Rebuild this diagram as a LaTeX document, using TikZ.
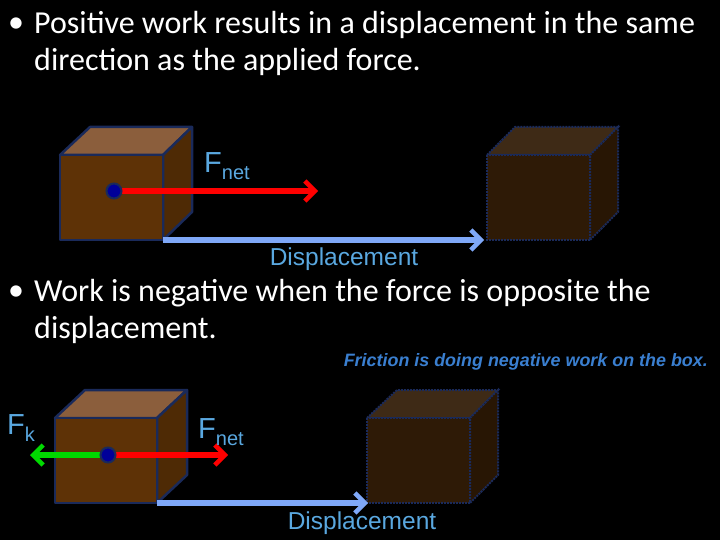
\documentclass[tikz,border=0pt]{standalone}
\usepackage{fontspec}
\setmainfont{Carlito}
\newfontfamily\arial{Liberation Sans}
\usetikzlibrary{arrows.meta}
\definecolor{bfront}{HTML}{5E3206}
\definecolor{btop}{HTML}{8B5E3C}
\definecolor{bside}{HTML}{4E2A05}
\definecolor{gfront}{HTML}{2E1A06}
\definecolor{gtop}{HTML}{3E2A16}
\definecolor{gside}{HTML}{281604}
\definecolor{edge}{HTML}{1A2A5A}
\definecolor{lbl}{HTML}{5AA8E0}
\definecolor{disp}{HTML}{7FA8F8}
\definecolor{fric}{HTML}{3A7FD0}
\tikzset{
 bul/.style={anchor=west,text=white,font=\fontsize{32}{36}\selectfont,inner sep=0},
 lab/.style={text=lbl,font=\arial\fontsize{24.5}{26}\selectfont,inner sep=0},
 farrow/.style={line width=6.5pt,-{Straight Barb[length=10pt,width=20pt,line width=4.5pt]}},
 darrow/.style={disp,line width=6pt,-{Straight Barb[length=10pt,width=20pt,line width=4.5pt]}},
 dot/.style={circle,fill=blue!60!black,draw=edge,line width=2pt,minimum size=15pt,inner sep=0},
 rb/.style={draw=edge,line width=2.5pt,line join=round},
 gb/.style={draw=edge,line width=2pt,densely dotted},
}
\begin{document}
\begin{tikzpicture}[x=1pt,y=-1pt]
\fill[black] (0,0) rectangle (720,540);
\useasboundingbox (0,0) rectangle (720,540);
\node[bul] (b1) at (8,25) {•};
\node[bul] (t1) at (34,25) {Positive work results in a displacement in the same};
\node[bul] (t1b) at (34,62) {direction as the applied force.};
\node[bul] (b2) at (8,293) {•};
\node[bul] (t2) at (34,293) {Work is negative when the force is opposite the};
\node[bul] (t2b) at (34,330) {displacement.};
\node[anchor=east,text=fric,font=\arial\bfseries\itshape\fontsize{17.9}{19}\selectfont,inner sep=0] (fr) at (708,362) {Friction is doing negative work on the box.};
% top real box
\fill[btop,rb] (60,155)--(90,127)--(192,127)--(163,155)--cycle;
\fill[bside,rb] (163,155)--(192,127)--(192,212)--(163,240)--cycle;
\fill[bfront,rb] (60,155) rectangle (163,240);
% top ghost
\fill[gtop,gb] (487,155)--(515,127)--(618,127)--(590,155)--cycle;
\fill[gside,gb] (590,155)--(618,127)--(618,212)--(590,240)--cycle;
\fill[gfront,gb] (487,155) rectangle (590,240);
\coordinate (c1) at (114,191);
\coordinate (e1) at (318,191);
\coordinate (ds1) at (163,240);
\coordinate (de1) at (484,240);
\draw[darrow] (ds1)--(de1);
\draw[farrow,red] (c1)--(e1);
\node[dot] (d1) at (c1) {};
\node[lab,anchor=west] (fn1) at (204,166) {\fontsize{29}{29}\selectfont F\raisebox{-7pt}{\fontsize{20}{20}\selectfont net}};
\node[lab] (dl1) at (344,259) {Displacement};
% bottom real box
\fill[btop,rb] (55,418)--(85,390)--(187,390)--(157,418)--cycle;
\fill[bside,rb] (157,418)--(187,390)--(187,475)--(157,503)--cycle;
\fill[bfront,rb] (55,418) rectangle (157,503);
% bottom ghost
\fill[gtop,gb] (367,418)--(397,390)--(498,390)--(470,418)--cycle;
\fill[gside,gb] (470,418)--(498,390)--(498,475)--(470,503)--cycle;
\fill[gfront,gb] (367,418) rectangle (470,503);
\coordinate (c2) at (108,455);
\coordinate (e2) at (228,455);
\coordinate (g2) at (30,455);
\coordinate (ds2) at (157,503);
\coordinate (de2) at (368,503);
\draw[darrow] (ds2)--(de2);
\draw[farrow,red] (c2)--(e2);
\draw[farrow,green!85!black] (c2)--(g2);
\node[dot] (d2) at (c2) {};
\node[lab,anchor=west] (fk) at (7,428) {\fontsize{29}{29}\selectfont F\raisebox{-7pt}{\fontsize{20}{20}\selectfont k}};
\node[lab,anchor=west] (fn2) at (198,432) {\fontsize{29}{29}\selectfont F\raisebox{-7pt}{\fontsize{20}{20}\selectfont net}};
\node[lab] (dl2) at (362,523) {Displacement};
\end{tikzpicture}
\end{document}
